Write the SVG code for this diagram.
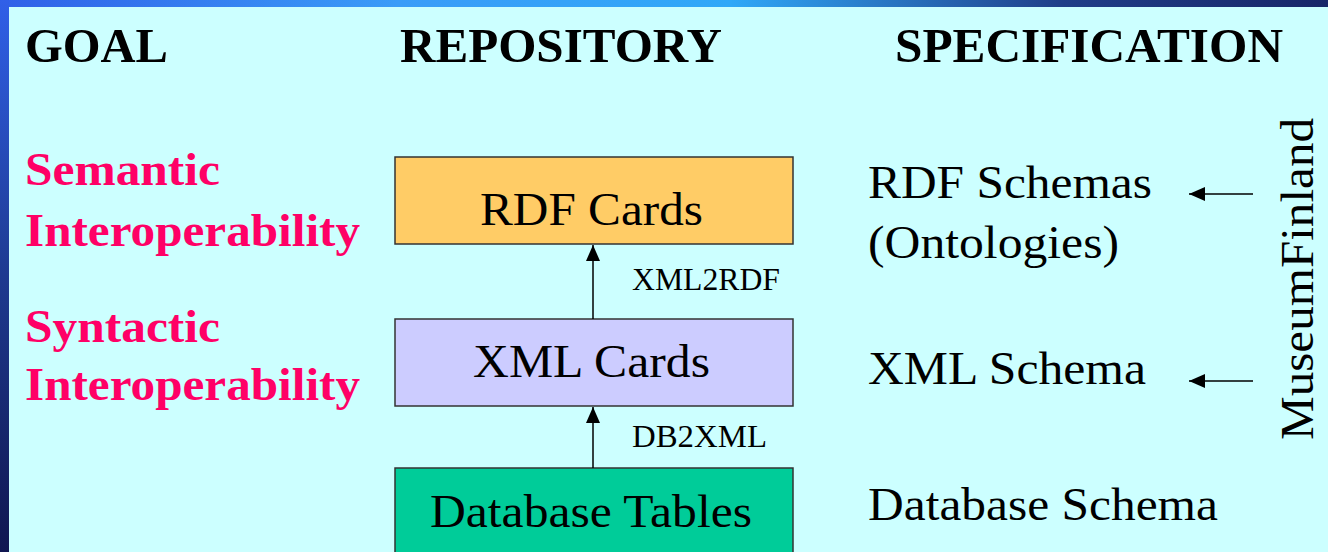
<svg xmlns="http://www.w3.org/2000/svg" width="1328" height="552" viewBox="0 0 1328 552">
<defs>
<linearGradient id="topg" x1="0" y1="0" x2="1" y2="0">
<stop offset="0" stop-color="#3060E8"/>
<stop offset="0.3" stop-color="#3A9CF8"/>
<stop offset="0.55" stop-color="#30A8F8"/>
<stop offset="0.8" stop-color="#203E88"/>
<stop offset="1" stop-color="#182668"/>
</linearGradient>
<linearGradient id="leftg" x1="0" y1="0" x2="0" y2="1">
<stop offset="0" stop-color="#3060E8"/>
<stop offset="0.5" stop-color="#1E3A90"/>
<stop offset="1" stop-color="#101650"/>
</linearGradient>
<marker id="ah" viewBox="0 0 16 14" refX="16" refY="7" markerWidth="16" markerHeight="14" markerUnits="userSpaceOnUse" orient="auto">
<path d="M0,0 L16,7 L0,14 Z" fill="#000"/>
</marker>
<style>
.hdr{font-family:"Liberation Serif","Times New Roman",serif;font-weight:bold;font-size:48px;fill:#000}
.goal{font-family:"Liberation Serif","Times New Roman",serif;font-weight:bold;font-size:46px;fill:#FF0066}
.t{font-family:"Liberation Serif","Times New Roman",serif;font-size:46px;fill:#000}
.lbl{font-family:"Liberation Serif","Times New Roman",serif;font-size:31px;fill:#000}
.box{stroke:#333;stroke-width:1.5}
.conn{stroke:#000;stroke-width:1.5;fill:none}
</style>
</defs>
<rect x="0" y="0" width="1328" height="552" fill="#CCFFFF"/>
<rect x="0" y="0" width="1328" height="7" fill="url(#topg)"/>
<rect x="0" y="0" width="9" height="552" fill="url(#leftg)"/>

<g id="headers">
<text class="hdr" x="25" y="62" textLength="143" lengthAdjust="spacingAndGlyphs">GOAL</text>
<text class="hdr" x="400" y="62" textLength="322" lengthAdjust="spacingAndGlyphs">REPOSITORY</text>
<text class="hdr" x="895" y="62" textLength="388" lengthAdjust="spacingAndGlyphs">SPECIFICATION</text>
</g>

<g id="goals">
<text class="goal" x="25" y="185" textLength="195" lengthAdjust="spacingAndGlyphs">Semantic</text>
<text class="goal" x="25" y="246" textLength="335" lengthAdjust="spacingAndGlyphs">Interoperability</text>
<text class="goal" x="25" y="342" textLength="195" lengthAdjust="spacingAndGlyphs">Syntactic</text>
<text class="goal" x="25" y="400" textLength="335" lengthAdjust="spacingAndGlyphs">Interoperability</text>
</g>

<g id="rdf-cards">
<rect class="box" x="395" y="157" width="398" height="87" fill="#FFCC66"/>
<text class="t" x="480" y="225" textLength="223" lengthAdjust="spacingAndGlyphs">RDF Cards</text>
</g>
<g id="xml-cards">
<rect class="box" x="395" y="319" width="398" height="87" fill="#CCCCFF"/>
<text class="t" x="473" y="377" textLength="237" lengthAdjust="spacingAndGlyphs">XML Cards</text>
</g>
<g id="database-tables">
<rect class="box" x="395" y="468" width="398" height="100" fill="#00CC99"/>
<text class="t" x="430" y="527" textLength="322" lengthAdjust="spacingAndGlyphs">Database Tables</text>
</g>

<g id="connectors">
<line class="conn" x1="593" y1="319" x2="593" y2="245" marker-end="url(#ah)"/>
<line class="conn" x1="593" y1="468" x2="593" y2="407" marker-end="url(#ah)"/>
<line class="conn" x1="1253" y1="194" x2="1189" y2="194" marker-end="url(#ah)"/>
<line class="conn" x1="1253" y1="381" x2="1189" y2="381" marker-end="url(#ah)"/>
<text class="lbl" x="632" y="290" textLength="148" lengthAdjust="spacingAndGlyphs">XML2RDF</text>
<text class="lbl" x="632" y="447" textLength="135" lengthAdjust="spacingAndGlyphs">DB2XML</text>
</g>

<g id="specs">
<text class="t" x="868" y="198" textLength="284" lengthAdjust="spacingAndGlyphs">RDF Schemas</text>
<text class="t" x="868" y="258" textLength="251" lengthAdjust="spacingAndGlyphs">(Ontologies)</text>
<text class="t" x="868" y="384" textLength="278" lengthAdjust="spacingAndGlyphs">XML Schema</text>
<text class="t" x="868" y="520" textLength="350" lengthAdjust="spacingAndGlyphs">Database Schema</text>
</g>

<g id="museumfinland">
<text class="t" transform="translate(1313,440) rotate(-90)" x="0" y="0" textLength="322" lengthAdjust="spacingAndGlyphs">MuseumFinland</text>
</g>
</svg>
